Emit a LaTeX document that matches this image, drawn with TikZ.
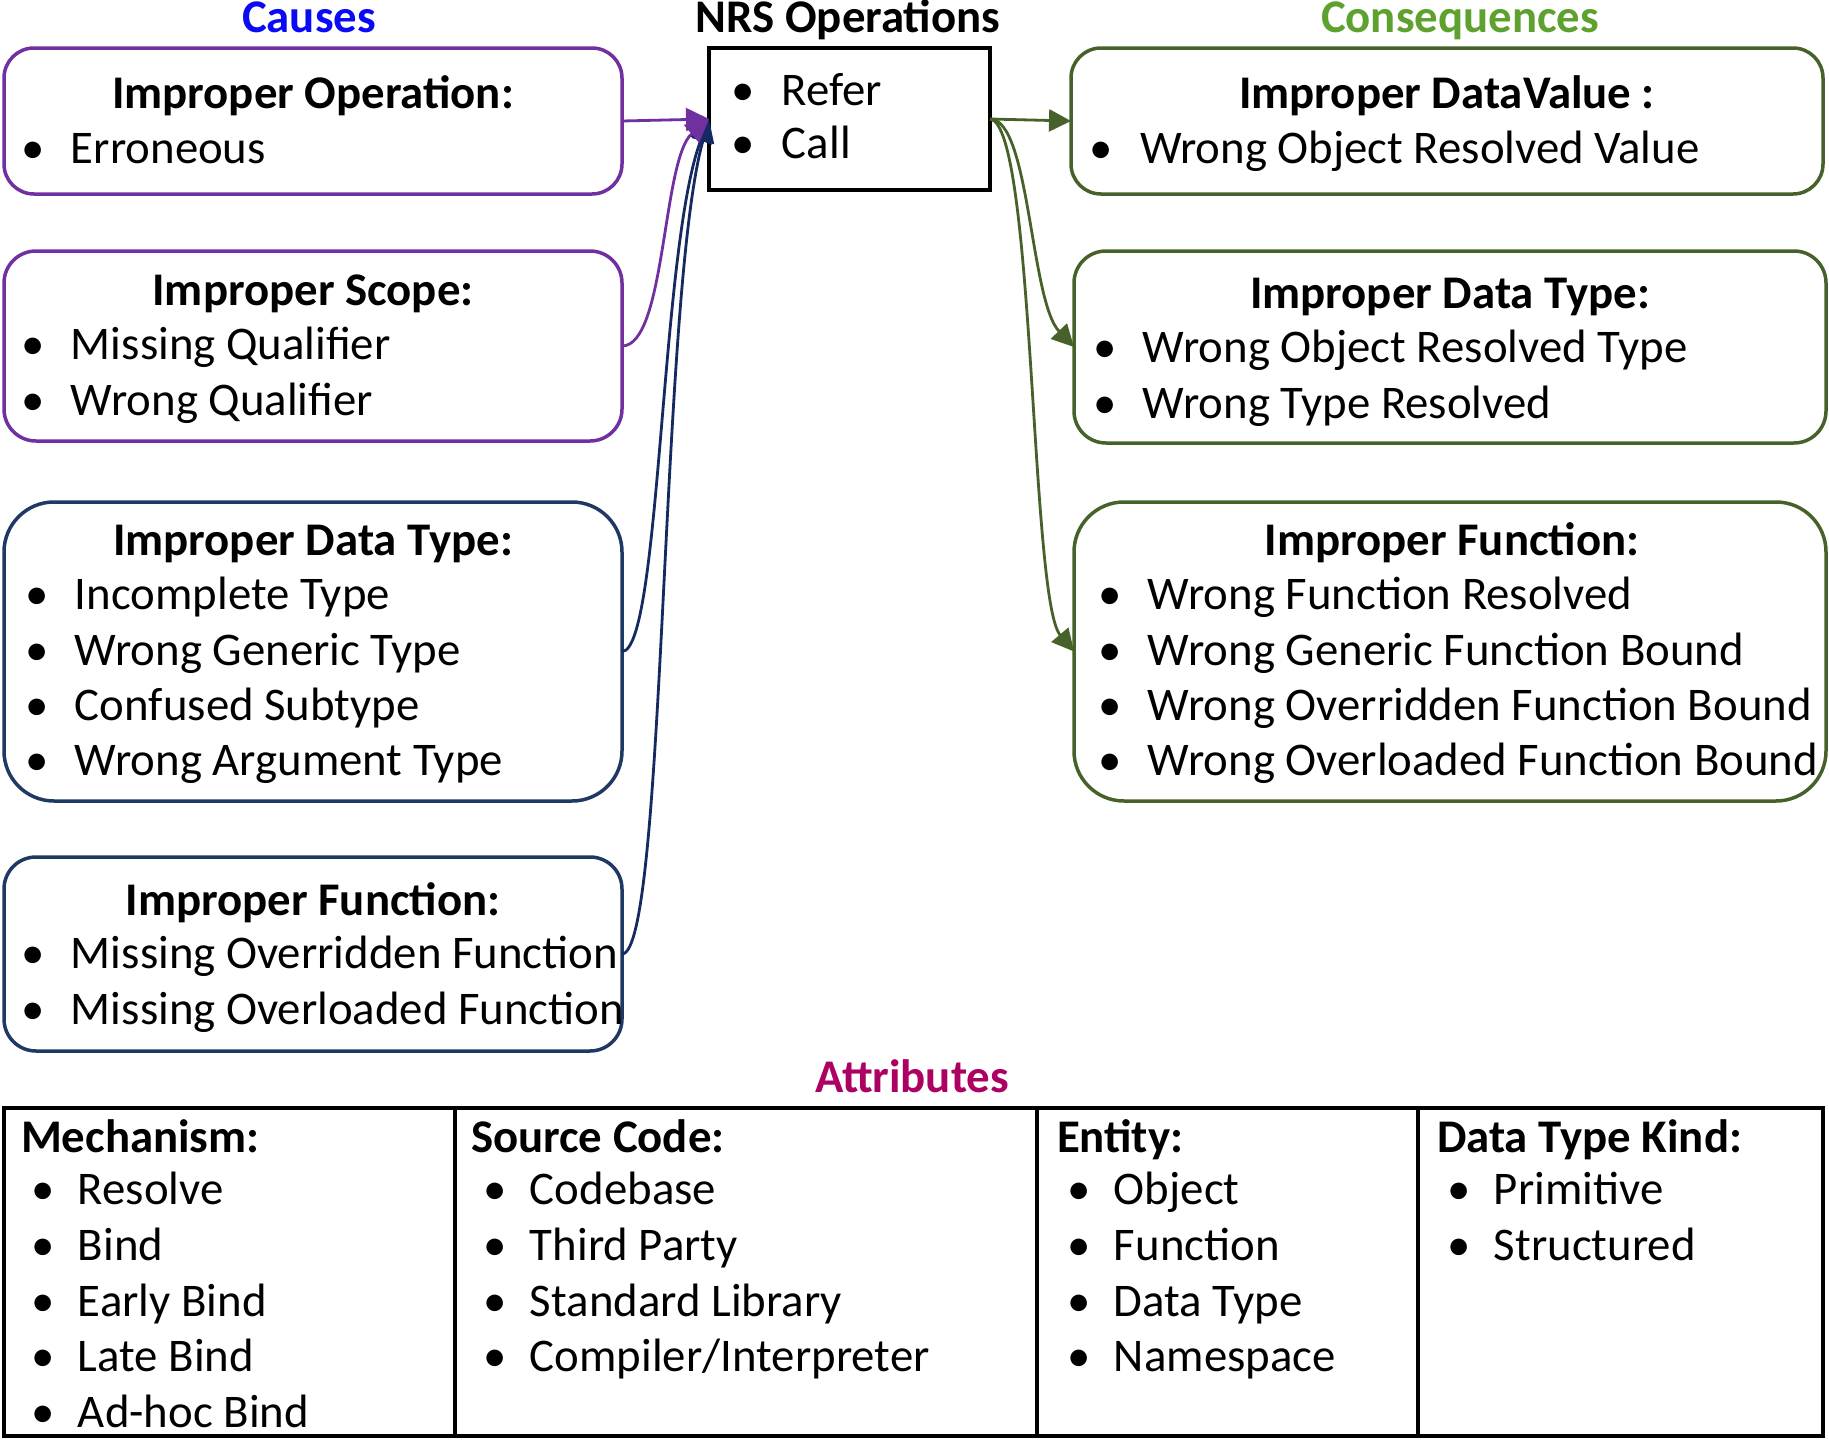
\documentclass[tikz,border=0pt]{standalone}
\usepackage{fontspec}
\setmainfont{Carlito}
\usetikzlibrary{arrows.meta}
\definecolor{cpurple}{HTML}{7030A0}
\definecolor{cnavy}{HTML}{1F3864}
\definecolor{carrnavy}{HTML}{142A60}
\definecolor{cgreen}{HTML}{46622A}
\definecolor{ctgreen}{HTML}{5EA12E}
\definecolor{cattr}{HTML}{AC0062}
\definecolor{cblue}{HTML}{0A0AF5}
\newcommand\bulw[1]{\llap{\makebox[#1][l]{•}}}
\tikzset{
  every node/.style={font=\fontsize{46.8}{55}\selectfont, inner sep=0pt, outer sep=0pt},
  rbox/.style={draw, line width=3.5pt, rounded corners=#1},
  cbox/.style={rbox=#1, minimum width=618pt},
  kbox/.style={rbox=#1, minimum width=752pt},
  ttl/.style={anchor=base, font=\fontsize{46.8}{55}\selectfont\bfseries},
  itm/.style={anchor=base west},
  hdr/.style={anchor=base west, font=\fontsize{46.8}{55}\selectfont\bfseries},
  arrP/.style={draw=cpurple, line width=2.8pt, -{Triangle[length=23pt,width=23pt]}, cpurple},
  arrN/.style={draw=carrnavy, line width=2.8pt, -{Triangle[length=23pt,width=23pt]}, carrnavy},
  arrG/.style={draw=cgreen, line width=2.8pt, -{Triangle[length=22pt,width=22pt]}, cgreen},
}
\begin{document}
\begin{tikzpicture}[x=1pt,y=-1pt]
\useasboundingbox[fill=white] (0,0) rectangle (1829,1440);

% section titles
\node[ttl, text=cblue] (tcauses) at (309,32) {Causes};
\node[ttl] (tnrs) at (848,32) {NRS Operations};
\node[ttl, text=ctgreen] (tcons) at (1460,32) {Consequences};
\node[ttl, text=cattr] (tattr) at (912,1092) {Attributes};

% causes boxes
\node[cbox=30pt, draw=cpurple, minimum height=146pt] (c1) at (313,121) {};
\node[cbox=32pt, draw=cpurple, minimum height=190pt] (c2) at (313,346) {};
\node[cbox=50pt, draw=cnavy, minimum height=299pt] (c3) at (313,651.5) {};
\node[cbox=32pt, draw=cnavy, minimum height=194pt] (c4) at (313,954) {};

% NRS box
\node[draw, line width=3.5pt, minimum width=281pt, minimum height=142pt] (nrs) at (849.5,119) {};

% consequences boxes
\node[kbox=30pt, draw=cgreen, minimum height=146pt] (k1) at (1447,121) {};
\node[kbox=32pt, draw=cgreen, minimum height=192pt] (k2) at (1450,347) {};
\node[kbox=50pt, draw=cgreen, minimum height=299pt] (k3) at (1450,651.5) {};

% attributes table
\node[draw, line width=3.5pt, minimum width=1819pt, minimum height=328pt] (attr) at (913.5,1272) {};
\coordinate (d1t) at (455,1108); \coordinate (d1b) at (455,1436);
\coordinate (d2t) at (1037,1108); \coordinate (d2b) at (1037,1436);
\coordinate (d3t) at (1418,1108); \coordinate (d3b) at (1418,1436);
\draw[line width=3.5pt] (d1t) -- (d1b) (d2t) -- (d2b) (d3t) -- (d3b);

% causes texts
\node[ttl] (c1t) at (313,108) {Improper Operation:};
\node[itm] (c1a) at (71,163) {\bulw{50pt}Erroneous};
\node[ttl] (c2t) at (313,305) {Improper Scope:};
\node[itm] (c2a) at (71,359) {\bulw{50pt}Missing Qualifier};
\node[itm] (c2b) at (71,415) {\bulw{50pt}Wrong Qualifier};
\node[ttl] (c3t) at (313,555) {Improper Data Type:};
\node[itm] (c3a) at (75,609) {\bulw{49.5pt}Incomplete Type};
\node[itm] (c3b) at (75,665) {\bulw{49.5pt}Wrong Generic Type};
\node[itm] (c3c) at (75,720) {\bulw{49.5pt}Confused Subtype};
\node[itm] (c3d) at (75,775) {\bulw{49.5pt}Wrong Argument Type};
\node[ttl] (c4t) at (313,915) {Improper Function:};
\node[itm] (c4a) at (71,968) {\bulw{50pt}Missing Overridden Function};
\node[itm] (c4b) at (71,1024) {\bulw{50pt}Missing Overloaded Function};

% NRS texts
\node[itm] (n1) at (782,105) {\bulw{51pt}Refer};
\node[itm] (n2) at (782,158) {\bulw{51pt}Call};

% consequences texts
\node[ttl] (k1t) at (1447,108) {Improper DataValue :};
\node[itm] (k1a) at (1140,163) {\bulw{50.5pt}Wrong Object Resolved Value};
\node[ttl] (k2t) at (1450,308) {Improper Data Type:};
\node[itm] (k2a) at (1143,362) {\bulw{50pt}Wrong Object Resolved Type};
\node[itm] (k2b) at (1143,418) {\bulw{50pt}Wrong Type Resolved};
\node[ttl] (k3t) at (1452,555) {Improper Function:};
\node[itm] (k3a) at (1148,609) {\bulw{49.5pt}Wrong Function Resolved};
\node[itm] (k3b) at (1148,665) {\bulw{49.5pt}Wrong Generic Function Bound};
\node[itm] (k3c) at (1148,720) {\bulw{49.5pt}Wrong Overridden Function Bound};
\node[itm] (k3d) at (1148,775) {\bulw{49.5pt}Wrong Overloaded Function Bound};

% attributes texts
\node[hdr] (m0) at (21,1152) {Mechanism:};
\node[itm] (m1) at (78,1204) {\bulw{46.5pt}Resolve};
\node[itm] (m2) at (78,1260) {\bulw{46.5pt}Bind};
\node[itm] (m3) at (78,1316) {\bulw{46.5pt}Early Bind};
\node[itm] (m4) at (78,1371) {\bulw{46.5pt}Late Bind};
\node[itm] (m5) at (78,1427) {\bulw{46.5pt}Ad-hoc Bind};
\node[hdr] (s0) at (471,1152) {Source Code:};
\node[itm] (s1) at (530,1204) {\bulw{46.5pt}Codebase};
\node[itm] (s2) at (530,1260) {\bulw{46.5pt}Third Party};
\node[itm] (s3) at (530,1316) {\bulw{46.5pt}Standard Library};
\node[itm] (s4) at (530,1371) {\bulw{46.5pt}Compiler/Interpreter};
\node[hdr] (e0) at (1057,1152) {Entity:};
\node[itm] (e1) at (1114,1204) {\bulw{46.5pt}Object};
\node[itm] (e2) at (1114,1260) {\bulw{46.5pt}Function};
\node[itm] (e3) at (1114,1316) {\bulw{46.5pt}Data Type};
\node[itm] (e4) at (1114,1371) {\bulw{46.5pt}Namespace};
\node[hdr] (t0) at (1437,1152) {Data Type Kind:};
\node[itm] (t1) at (1494,1204) {\bulw{46.5pt}Primitive};
\node[itm] (t2) at (1494,1260) {\bulw{46.5pt}Structured};

% connectors causes -> NRS
\draw[arrN] (c4.east) .. controls +(44,0) and +(-49,175) .. (nrs.west);
\draw[arrN] (c3.east) .. controls +(39,0) and +(-49,127) .. (nrs.west);
\draw[arrP] (c2.east) .. controls +(44,0) and +(-47,40) .. (nrs.west);
\draw[arrP] (c1.east) -- (nrs.west);

% connectors NRS -> consequences
\draw[arrG] (nrs.east) -- (k1.west);
\draw[arrG] (nrs.east) .. controls +(40,0) and +(-44,-46) .. (k2.west);
\draw[arrG] (nrs.east) .. controls +(45,5) and +(-44,-52) .. (k3.west);
\end{tikzpicture}
\end{document}
